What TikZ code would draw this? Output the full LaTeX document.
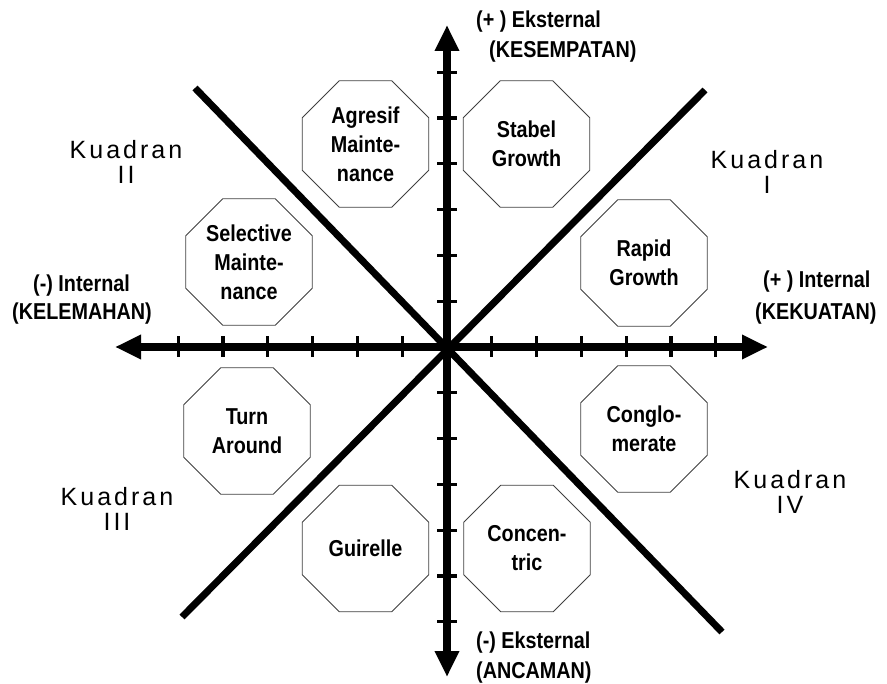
\documentclass[tikz,border=0pt]{standalone}
\usepackage{fontspec}
\setmainfont{Liberation Sans}
\newfontfamily\octfont[FakeStretch=0.86]{Liberation Sans}
\newfontfamily\kuadfont[LetterSpace=12]{Liberation Sans}
\usetikzlibrary{arrows.meta,shapes.geometric}
\begin{document}
\begin{tikzpicture}[x=1pt,y=-1pt,
  axisline/.style={line width=7.5pt,{Triangle[length=26pt,width=23pt]}-{Triangle[length=26pt,width=23pt]}},
  diagline/.style={line width=7pt},
  tickline/.style={line width=3.2pt},
  oct/.style={draw=black!75,line width=0.9pt,fill=white,regular polygon,regular polygon sides=8,
    minimum size=137pt,inner sep=0pt,align=center,font=\octfont\bfseries\fontsize{23}{29}\selectfont},
  axlab/.style={font=\octfont\bfseries\fontsize{23}{32}\selectfont,inner sep=0pt,anchor=base west},
  quad/.style={font=\kuadfont\fontsize{25}{25}\selectfont,align=center,inner sep=0pt,anchor=north}]
\useasboundingbox (0,0) rectangle (887,684);
\coordinate (O) at (447,347);
\coordinate (L) at (115,347);
\coordinate (R) at (768,347);
\coordinate (T) at (447,25);
\coordinate (B) at (447,677);
\coordinate (D1a) at (195,88);
\coordinate (D1b) at (722,632);
\coordinate (D2a) at (705,90);
\coordinate (D2b) at (182,617);
% diagonals
\draw[diagline] (D1a) -- (D1b);
\draw[diagline] (D2a) -- (D2b);
% axes
\draw[axisline] (L) -- (R);
\draw[axisline] (B) -- (T);
% ticks
\foreach \k in {1,...,6}{
  \draw[tickline] ([shift={(\k*44.8,-10.5)}]O) -- ([shift={(\k*44.8,10.5)}]O);
  \draw[tickline] ([shift={(-\k*44.8,-10.5)}]O) -- ([shift={(-\k*44.8,10.5)}]O);
  \draw[tickline] ([shift={(-10,\k*45.8)}]O) -- ([shift={(10,\k*45.8)}]O);
  \draw[tickline] ([shift={(-10,-\k*45.8)}]O) -- ([shift={(10,-\k*45.8)}]O);
}
% octagons
\node[oct] (agr) at (365.5,144) {Agresif\\Mainte-\\nance};
\node[oct] (stb) at (526.5,144) {Stabel\\Growth};
\node[oct] (sel) at (249,262) {Selective\\Mainte-\\nance};
\node[oct] (rap) at (644,263) {Rapid\\Growth};
\node[oct] (tur) at (247,431) {Turn\\Around};
\node[oct] (con) at (644,429) {Conglo-\\merate};
\node[oct] (gui) at (365.5,548.5) {Guirelle};
\node[oct] (cnc) at (527,548.5) {Concen-\\tric};
% axis labels
\node[axlab] (ekp1) at (476,28) {(+ ) Eksternal};
\node[axlab] (ekp2) at (489,58) {(KESEMPATAN)};
\node[axlab] (inm1) at (33,292) {(-) Internal};
\node[axlab] (inm2) at (12,320) {(KELEMAHAN)};
\node[axlab] (inp1) at (763,288) {(+ ) Internal};
\node[axlab] (inp2) at (755,320) {(KEKUATAN)};
\node[axlab] (ekm1) at (476,648) {(-) Eksternal};
\node[axlab] (ekm2) at (476,678) {(ANCAMAN)};
% quadrant labels
\node[quad] (q2) at (126,140) {Kuadran\\II};
\node[quad] (q1) at (767,150) {Kuadran\\I};
\node[quad] (q3) at (117,487) {Kuadran\\III};
\node[quad] (q4) at (790,470) {Kuadran\\IV};
\end{tikzpicture}
\end{document}
